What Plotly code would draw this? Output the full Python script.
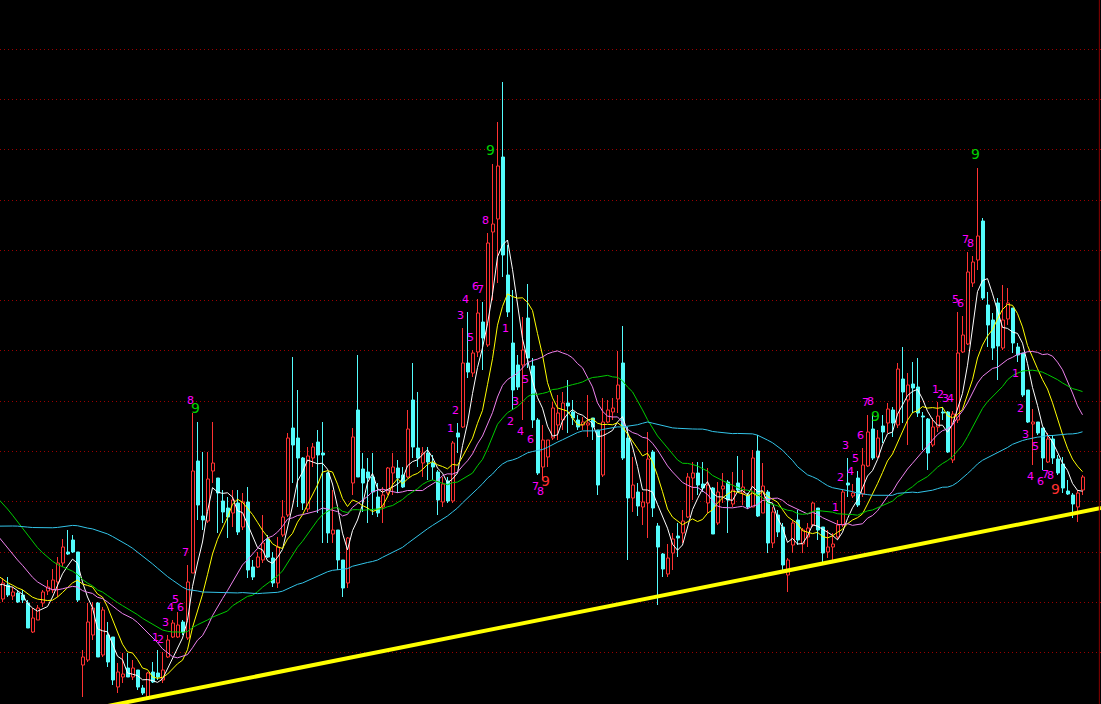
import pandas as pd
import plotly.graph_objects as go

# closes of the 60 sessions before the visible window (only used to seed the moving averages)
history_close = [
    20.5, 21.0, 21.4, 20.8, 21.6, 22.0, 21.2, 20.6, 21.1, 21.8,
    22.4, 21.9, 21.3, 20.7, 21.5, 22.2, 23.0, 23.8, 24.5, 25.4,
    26.0, 26.8, 27.6, 28.6, 30.0, 31.4, 32.6, 33.8, 34.8, 35.8,
    37.2, 38.5, 39.6, 40.2, 39.4, 38.6, 38.0, 37.1, 36.2, 35.0,
    34.6, 33.8, 32.9, 31.7, 31.1, 30.3, 29.5, 28.8, 27.9, 26.9,
    25.5, 24.5, 23.6, 22.9, 22.2, 21.6, 21.8, 21.4, 21.9, 22.2,
]

open_ = [
    20.4, 21.8, 20.7, 21.0, 20.8, 20.0, 17.1, 18.3, 20.0, 21.2,
    21.3, 22.1, 24.0, 25.1, 26.3, 25.1, 13.8, 14.3, 16.8, 20.0,
    14.8, 16.8, 16.6, 11.6, 12.6, 13.5, 12.6, 13.3, 11.5, 10.6,
    13.1, 13.0, 12.3, 14.6, 16.6, 16.6, 18.1, 16.5, 23.0, 34.2,
    28.7, 28.2, 33.2, 32.5, 30.2, 29.5, 29.0, 30.0, 27.6, 30.1,
    23.6, 23.6, 24.3, 26.4, 24.5, 22.0, 26.8, 28.8, 37.5, 36.5,
    34.5, 29.4, 34.5, 36.1, 35.0, 33.0, 26.9, 27.3, 24.3, 22.0,
    32.0, 39.3, 33.4, 33.1, 32.6, 30.6, 29.6, 31.0, 33.0, 33.5,
    32.8, 32.6, 40.3, 35.5, 34.0, 35.0, 34.0, 33.1, 30.1, 32.2,
    30.2, 37.0, 37.6, 44.0, 43.0, 45.1, 48.1, 45.8, 57.1, 58.4,
    64.6, 52.8, 46.0, 43.8, 43.8, 48.5, 43.7, 38.3, 33.6, 34.6,
    36.5, 37.8, 38.3, 40.0, 39.1, 38.3, 37.8, 37.8, 38.5, 37.3,
    32.8, 38.1, 39.1, 40.4, 44.0, 36.5, 30.5, 31.1, 29.6, 30.0,
    35.1, 27.7, 24.9, 22.9, 25.0, 26.7, 27.0, 28.6, 32.5, 33.0,
    31.9, 30.0, 31.5, 28.0, 31.4, 32.1, 29.9, 32.0, 31.0, 30.8,
    29.6, 35.2, 29.0, 31.1, 26.0, 28.8, 27.6, 22.8, 25.8, 28.3,
    25.9, 26.6, 27.8, 29.5, 27.6, 25.1, 25.6, 26.6, 27.8, 32.0,
    30.7, 32.5, 30.9, 33.7, 37.4, 34.6, 37.7, 38.0, 39.3, 37.8,
    42.4, 40.3, 41.9, 41.6, 38.7, 38.4, 35.8, 37.6, 39.1, 39.1,
    34.3, 38.3, 45.1, 45.9, 52.0, 54.3, 58.2, 49.8, 48.3, 50.0,
    45.5, 48.4, 49.5, 45.6, 45.0, 41.3, 37.9, 38.1, 37.5, 34.1,
    36.4, 34.4, 33.9, 31.2, 30.8, 29.6, 31.3,
]

high = [
    22.5, 22.6, 21.6, 21.3, 21.3, 20.3, 19.5, 19.8, 21.3, 22.3,
    23.4, 24.6, 26.4, 27.3, 26.8, 25.1, 15.3, 20.0, 20.1, 20.1,
    19.6, 18.1, 16.6, 14.0, 15.0, 15.0, 14.3, 13.3, 11.8, 13.1,
    14.1, 15.3, 15.1, 16.8, 18.3, 19.1, 18.3, 23.8, 39.0, 38.1,
    35.1, 35.1, 38.1, 32.5, 31.3, 30.6, 31.3, 31.3, 31.0, 31.6,
    24.3, 25.1, 28.8, 26.8, 25.1, 26.6, 30.3, 37.0, 44.6, 41.3,
    34.6, 35.6, 36.0, 37.3, 38.1, 33.1, 31.3, 27.3, 24.3, 26.6,
    37.5, 44.8, 35.0, 34.5, 35.0, 32.0, 31.6, 33.6, 35.0, 34.3,
    33.6, 39.3, 44.0, 41.1, 35.6, 35.6, 34.8, 33.3, 32.6, 32.6,
    36.2, 38.0, 47.5, 49.1, 45.3, 50.4, 50.1, 57.0, 63.9, 68.1,
    72.1, 55.8, 51.3, 44.8, 48.6, 51.9, 44.5, 38.5, 37.8, 36.3,
    40.1, 40.8, 41.1, 42.3, 40.3, 38.8, 38.6, 40.8, 38.5, 37.3,
    40.5, 40.3, 40.5, 45.2, 47.7, 37.6, 34.6, 32.0, 31.1, 37.1,
    35.3, 28.0, 25.0, 25.9, 27.0, 28.0, 29.3, 33.0, 34.1, 34.1,
    34.1, 33.5, 31.6, 32.1, 33.0, 32.3, 33.1, 34.7, 33.3, 31.0,
    35.3, 36.8, 34.0, 31.3, 29.6, 29.3, 28.0, 24.5, 28.3, 29.3,
    27.5, 28.0, 30.1, 29.5, 27.6, 27.3, 27.0, 28.3, 31.3, 34.5,
    31.9, 33.2, 35.5, 38.8, 38.9, 37.3, 38.8, 40.0, 39.6, 44.0,
    45.6, 43.0, 44.1, 44.5, 39.1, 38.5, 38.5, 40.1, 39.6, 39.2,
    39.2, 49.1, 48.7, 55.1, 54.7, 63.5, 58.5, 51.1, 49.0, 50.5,
    51.8, 51.5, 49.5, 46.0, 45.0, 41.3, 39.4, 38.1, 37.5, 37.0,
    36.8, 34.8, 34.6, 32.3, 31.0, 31.3, 32.8,
]

low = [
    20.1, 20.6, 20.3, 20.0, 20.0, 17.5, 17.0, 18.3, 19.6, 20.8,
    21.0, 20.6, 23.6, 24.8, 25.0, 20.1, 10.6, 14.1, 16.3, 14.6,
    14.6, 13.6, 11.8, 11.0, 12.0, 12.6, 12.3, 11.3, 10.8, 10.3,
    12.0, 12.3, 12.0, 14.5, 16.5, 16.5, 16.8, 16.3, 23.0, 28.3,
    27.3, 28.0, 32.0, 27.0, 28.0, 26.5, 27.6, 26.8, 27.3, 22.5,
    22.3, 23.5, 24.0, 24.5, 21.6, 21.5, 26.6, 28.6, 32.0, 29.6,
    29.3, 29.1, 33.6, 29.0, 26.0, 26.0, 26.0, 23.3, 20.6, 21.5,
    30.8, 32.6, 29.1, 28.0, 28.8, 28.6, 28.0, 30.8, 30.8, 31.0,
    31.5, 32.5, 34.5, 33.6, 32.6, 32.3, 32.3, 28.8, 29.6, 30.0,
    30.0, 35.0, 37.5, 42.5, 42.6, 44.6, 43.3, 45.6, 50.3, 52.0,
    52.6, 48.6, 39.3, 41.3, 38.3, 43.5, 37.5, 32.8, 32.3, 33.6,
    36.3, 36.3, 37.3, 37.0, 37.8, 37.3, 37.3, 36.6, 36.3, 30.8,
    32.6, 38.0, 38.3, 39.0, 34.3, 24.3, 29.1, 28.7, 27.8, 26.5,
    28.6, 19.8, 22.6, 22.6, 23.3, 24.6, 26.0, 28.5, 30.3, 30.8,
    31.1, 29.0, 26.9, 27.8, 30.0, 27.0, 29.6, 31.1, 29.8, 29.4,
    29.6, 28.6, 29.0, 25.0, 25.5, 26.6, 23.3, 21.1, 25.0, 25.8,
    25.0, 25.6, 27.6, 26.3, 24.1, 24.5, 24.3, 26.3, 27.6, 30.6,
    30.5, 29.6, 30.6, 33.6, 34.3, 34.5, 36.0, 37.0, 36.6, 37.5,
    38.0, 35.8, 39.0, 38.6, 35.3, 33.3, 35.6, 37.1, 38.3, 35.0,
    34.0, 38.0, 45.0, 45.8, 51.6, 53.3, 50.3, 45.6, 44.3, 42.3,
    45.3, 47.8, 45.0, 44.1, 40.6, 38.0, 33.8, 36.8, 33.3, 34.0,
    33.9, 32.8, 31.0, 30.8, 28.5, 28.1, 30.8,
]

close = [
    22.0, 20.8, 21.1, 20.1, 20.3, 17.5, 18.5, 19.5, 21.1, 21.6,
    22.3, 24.0, 25.6, 24.9, 25.1, 20.3, 14.6, 18.1, 19.5, 14.6,
    19.3, 14.1, 12.3, 13.1, 12.9, 12.6, 13.5, 11.6, 11.0, 13.0,
    12.1, 12.6, 13.3, 16.3, 18.0, 17.8, 17.1, 22.1, 33.2, 29.8,
    28.3, 32.4, 34.0, 31.0, 29.1, 28.6, 30.3, 27.1, 30.1, 23.3,
    22.6, 24.6, 26.0, 24.6, 22.0, 25.6, 28.6, 36.5, 35.8, 34.5,
    30.0, 34.7, 35.6, 34.8, 34.8, 27.0, 27.3, 24.3, 21.5, 26.5,
    36.6, 32.6, 32.0, 32.5, 31.1, 29.0, 30.8, 33.5, 33.6, 32.5,
    31.6, 37.4, 35.6, 34.5, 35.0, 34.1, 33.6, 30.3, 31.9, 30.2,
    36.0, 36.6, 44.0, 43.1, 45.0, 49.0, 46.5, 56.0, 57.9, 63.7,
    54.8, 49.1, 41.3, 41.6, 45.3, 44.5, 38.3, 33.0, 36.3, 36.3,
    39.5, 39.0, 40.0, 39.7, 38.5, 37.6, 38.1, 38.0, 37.6, 31.8,
    38.1, 39.3, 39.5, 41.8, 34.5, 30.5, 31.8, 29.7, 30.1, 34.4,
    29.5, 25.6, 23.4, 24.5, 26.4, 26.5, 28.2, 32.6, 33.0, 31.8,
    31.5, 31.8, 26.9, 31.1, 31.7, 30.3, 31.3, 31.3, 31.6, 29.6,
    34.5, 28.7, 31.7, 26.0, 29.1, 27.1, 23.8, 24.3, 28.0, 26.3,
    27.3, 27.5, 30.0, 27.3, 25.0, 25.6, 25.9, 27.8, 31.1, 31.8,
    31.0, 29.8, 33.8, 37.1, 34.5, 36.5, 37.1, 39.4, 38.0, 43.4,
    41.1, 41.8, 41.5, 39.0, 38.6, 35.0, 37.6, 38.7, 39.0, 35.1,
    38.9, 45.0, 46.8, 53.1, 54.1, 56.7, 50.5, 47.8, 45.5, 45.7,
    48.3, 50.0, 46.0, 44.8, 40.8, 38.1, 38.1, 37.0, 34.5, 36.4,
    34.5, 33.0, 31.5, 30.9, 29.9, 31.0, 32.6,
]

ma_periods = [5, 10, 20, 30, 60]
ma_colors = ["#ffffff", "#ffff00", "#ee82ee", "#00cc00", "#33c4e8"]

# first bar of each nine-count (TD setup) run
sell_setup_starts = [31, 90, 167, 187]   # counted above the highs
buy_setup_starts = [101, 203]            # counted below the lows

# hand-drawn support line: two anchor points (bar index, price)
trend_anchor_idx = [29, 216]
trend_anchor_price = [10.49, 29.13]

UP = "#ff3232"
DOWN = "#54fcfc"
MAGENTA = "#ff00ff"

n = len(close)
idx = list(range(n))
n_hist = len(history_close)
is_up = [c >= o for o, c in zip(open_, close)]

fig = go.Figure()

# candle bodies (hollow red for up days, filled cyan for down days)
body_base = [min(o, c) for o, c in zip(open_, close)]
body_len = [abs(c - o) for o, c in zip(open_, close)]
fig.add_trace(go.Bar(
    x=idx, base=body_base, y=body_len, width=0.6, offset=-0.2,
    marker=dict(color=["#000000" if u else DOWN for u in is_up],
                line=dict(color=[UP if u else DOWN for u in is_up], width=1)),
    hoverinfo="skip", showlegend=False,
))

# wicks: from the high down to the body, and from the body down to the low
for want_up, col in ((True, UP), (False, DOWN)):
    wx, wy = [], []
    for i in idx:
        if is_up[i] != want_up:
            continue
        top = max(open_[i], close[i])
        bot = min(open_[i], close[i])
        wx += [i, i, None, i, i, None]
        wy += [high[i], top, None, bot, low[i], None]
    fig.add_trace(go.Scatter(
        x=wx, y=wy, mode="lines", line=dict(color=col, width=1),
        hoverinfo="skip", showlegend=False, connectgaps=False,
    ))

full_close = pd.Series(history_close + close, index=list(range(-n_hist, n)))
for p, col in zip(ma_periods, ma_colors):
    ma = full_close.rolling(p).mean()
    seg = ma.loc[-1:]
    fig.add_trace(go.Scatter(
        x=list(seg.index), y=list(seg.values), mode="lines",
        line=dict(color=col, width=1), hoverinfo="skip", showlegend=False,
    ))

# support trendline extended across the plot
x_left, x_right = -0.5, 219.7
slope = (trend_anchor_price[1] - trend_anchor_price[0]) / (trend_anchor_idx[1] - trend_anchor_idx[0])
def trend_at(x):
    return trend_anchor_price[0] + slope * (x - trend_anchor_idx[0])
fig.add_trace(go.Scatter(
    x=[x_left, x_right], y=[trend_at(x_left), trend_at(x_right)], mode="lines",
    line=dict(color="#ffff00", width=4), hoverinfo="skip", showlegend=False,
))

# TD setup counts
tx, ty, tt, tc, ts = [], [], [], [], []
for s in sell_setup_starts:
    for k in range(9):
        i = s + k
        tx.append(i - 0.4)
        if k == 8:
            ty.append(high[i] + 1.3); tc.append("#00d000"); ts.append(14)
        else:
            ty.append(high[i] + 1.2); tc.append(MAGENTA); ts.append(11)
        tt.append(str(k + 1))
for s in buy_setup_starts:
    for k in range(9):
        i = s + k
        tx.append(i - 0.4)
        if k == 8:
            ty.append(low[i] - 1.5); tc.append("#ff3030"); ts.append(14)
        else:
            ty.append(low[i] - 1.2); tc.append(MAGENTA); ts.append(11)
        tt.append(str(k + 1))
fig.add_trace(go.Scatter(
    x=tx, y=ty, text=tt, mode="text",
    textfont=dict(color=tc, size=ts, family="DejaVu Sans"),
    hoverinfo="skip", showlegend=False,
))

fig.add_shape(type="line", xref="paper", yref="paper", x0=0.9985, x1=0.9985, y0=0, y1=1,
              line=dict(color="#8b0000", width=1))

fig.update_layout(
    width=1101, height=704,
    margin=dict(l=0, r=0, t=0, b=0),
    paper_bgcolor="#000000", plot_bgcolor="#000000",
    showlegend=False, barmode="overlay",
    xaxis=dict(range=[x_left, x_right], showgrid=False, zeroline=False,
               showticklabels=False, ticks="", showline=False),
    yaxis=dict(range=[9.9, 80.3], tickmode="linear", tick0=10, dtick=5.03,
               showgrid=True, gridcolor="#9a0000", griddash="1px,3px", gridwidth=1,
               zeroline=False, showticklabels=False, ticks="", showline=False),
)

fig.write_html(
    "out.html",
    config={"displayModeBar": False},
    post_script="document.body.style.margin='0';document.body.style.overflow='hidden';document.body.style.background='#000';",
)
